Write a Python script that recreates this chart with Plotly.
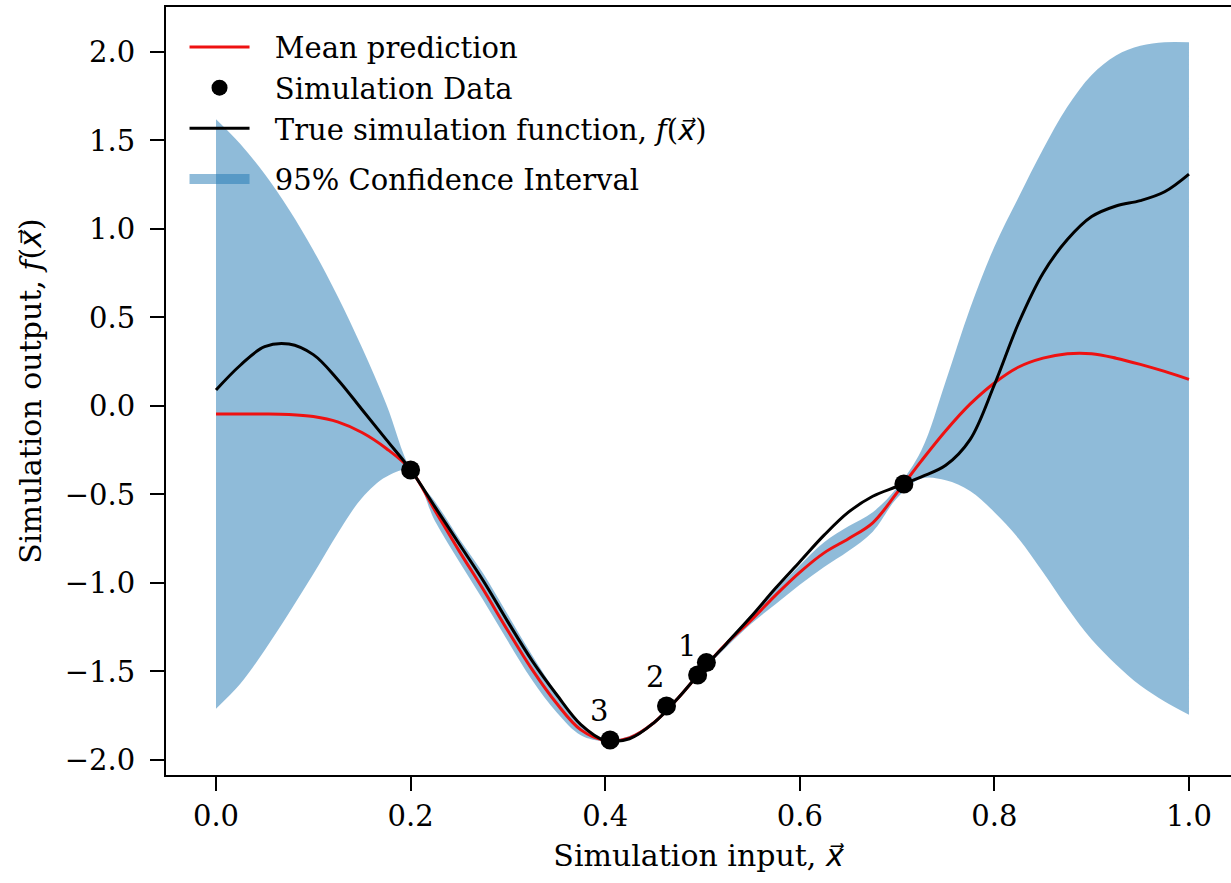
import plotly.graph_objects as go

# ---- data ----
x_grid = [0.000, 0.025, 0.050, 0.075, 0.100, 0.125, 0.150, 0.175, 0.200, 0.225,
          0.250, 0.275, 0.300, 0.325, 0.350, 0.375, 0.400, 0.425, 0.450, 0.475,
          0.500, 0.525, 0.550, 0.575, 0.600, 0.625, 0.650, 0.675, 0.700, 0.725,
          0.750, 0.775, 0.800, 0.825, 0.850, 0.875, 0.900, 0.925, 0.950, 0.975, 1.000]

true_fn = [0.09, 0.23, 0.335, 0.35, 0.29, 0.15, -0.02, -0.19, -0.36, -0.57,
           -0.78, -0.99, -1.22, -1.44, -1.63, -1.80, -1.89, -1.88, -1.79, -1.65,
           -1.49, -1.34, -1.19, -1.03, -0.88, -0.73, -0.60, -0.51, -0.455, -0.40,
           -0.335, -0.19, 0.12, 0.47, 0.75, 0.94, 1.07, 1.13, 1.16, 1.21, 1.31]

mean_pred = [-0.045, -0.045, -0.045, -0.048, -0.06, -0.09, -0.15, -0.24, -0.36, -0.59,
             -0.82, -1.04, -1.27, -1.49, -1.68, -1.83, -1.89, -1.875, -1.79, -1.65,
             -1.49, -1.34, -1.21, -1.07, -0.94, -0.83, -0.75, -0.66, -0.49, -0.31,
             -0.14, 0.01, 0.13, 0.22, 0.27, 0.295, 0.295, 0.27, 0.235, 0.195, 0.15]

ci_upper = [1.62, 1.48, 1.31, 1.11, 0.88, 0.62, 0.33, 0.01, -0.36, -0.54,
            -0.75, -0.95, -1.18, -1.41, -1.62, -1.80, -1.885, -1.865, -1.78, -1.64,
            -1.48, -1.33, -1.18, -1.04, -0.90, -0.77, -0.68, -0.60, -0.46, -0.25,
            0.14, 0.55, 0.90, 1.18, 1.45, 1.69, 1.87, 1.98, 2.035, 2.055, 2.055]

ci_lower = [-1.71, -1.57, -1.38, -1.17, -0.95, -0.72, -0.52, -0.40, -0.365, -0.65,
            -0.88, -1.10, -1.33, -1.55, -1.73, -1.86, -1.895, -1.885, -1.80, -1.66,
            -1.50, -1.36, -1.23, -1.12, -1.01, -0.91, -0.82, -0.71, -0.52, -0.41,
            -0.42, -0.48, -0.60, -0.75, -0.94, -1.14, -1.32, -1.46, -1.58, -1.67, -1.745]

data_x = [0.200, 0.707, 0.405, 0.463, 0.495, 0.504]
data_y = [-0.362, -0.441, -1.887, -1.695, -1.52, -1.45]

label_text = ["1", "2", "3"]
label_x = [0.495, 0.463, 0.405]
label_y = [-1.52, -1.695, -1.887]

x_ticks = [0.0, 0.2, 0.4, 0.6, 0.8, 1.0]
y_ticks = [-2.0, -1.5, -1.0, -0.5, 0.0, 0.5, 1.0, 1.5, 2.0]

FONT = "DejaVu Serif"
FS = 29
TFS = 30
SP = "\u2002\u2009"
XVEC = "<span style=\"font-family:'DejaVu Sans'\"><i>x\u20d7</i></span>"
FILL = "rgba(31,119,180,0.5)"

fig = go.Figure()

fig.add_trace(go.Scatter(x=x_grid, y=ci_upper, mode="lines", line=dict(width=0, shape="spline"),
                         showlegend=False, hoverinfo="skip"))
fig.add_trace(go.Scatter(x=x_grid, y=ci_lower, mode="lines", line=dict(width=0, shape="spline"),
                         fill="tonexty", fillcolor=FILL, showlegend=False, hoverinfo="skip"))
# legend entry for the confidence band
fig.add_trace(go.Scatter(x=[None], y=[None], mode="lines", line=dict(width=22, color=FILL),
                         name=SP + "95% Confidence Interval", legendrank=4, legendgroup="band"))
fig.add_trace(go.Scatter(x=x_grid, y=mean_pred, mode="lines",
                         line=dict(color="#ee1111", width=3, shape="spline"),
                         name=SP + "Mean prediction", legendrank=1, legendgroup="main"))
fig.add_trace(go.Scatter(x=x_grid, y=true_fn, mode="lines",
                         line=dict(color="black", width=3, shape="spline"),
                         name=SP + "True simulation function, <i>f</i>(" + XVEC + ")",
                         legendrank=3, legendgroup="main"))
fig.add_trace(go.Scatter(x=data_x, y=data_y, mode="markers",
                         marker=dict(color="black", size=19),
                         name=SP + "Simulation Data", legendrank=2, legendgroup="main"))

for t, lx, ly in zip(label_text, label_x, label_y):
    fig.add_annotation(x=lx, y=ly, text=t, showarrow=False, xshift=-11, yshift=29,
                       font=dict(family=FONT, size=FS, color="black"))

fig.update_layout(
    width=1231, height=883,
    margin=dict(l=166, r=0, t=7, b=108),
    paper_bgcolor="white", plot_bgcolor="white",
    font=dict(family=FONT, size=FS, color="black"),
    legend=dict(x=0.0174, y=0.981, xanchor="left", yanchor="top", bgcolor="rgba(0,0,0,0)",
                itemwidth=60, tracegroupgap=10, traceorder="grouped",
                font=dict(family=FONT, size=FS)),
    xaxis=dict(range=[-0.0514, 1.0432], tickvals=x_ticks, ticktext=[f"{v:.1f}" for v in x_ticks],
               showgrid=False, zeroline=False, showline=True, linecolor="black", linewidth=2,
               mirror=True, ticks="outside", ticklen=14, tickwidth=2, tickcolor="black",
               title=dict(text="Simulation input, " + XVEC, standoff=13, font=dict(size=TFS))),
    yaxis=dict(range=[-2.085, 2.254], tickvals=y_ticks, ticktext=[f"{v:.1f}".replace("-", "−") for v in y_ticks],
               showgrid=False, zeroline=False, showline=True, linecolor="black", linewidth=2,
               ticks="outside", ticklen=14, tickwidth=2, tickcolor="black", ticklabelstandoff=9,
               title=dict(text="Simulation output, <i>f</i>(" + XVEC + ")", standoff=14, font=dict(size=TFS))),
)

fig.write_html("out.html")
